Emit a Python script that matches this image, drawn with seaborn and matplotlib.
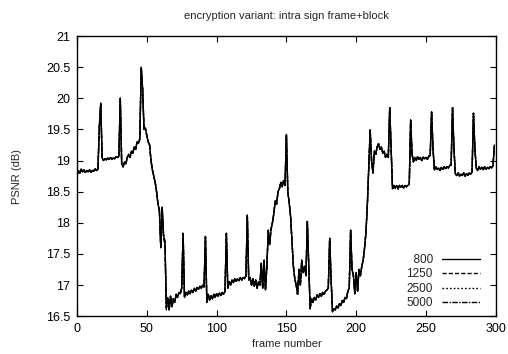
import numpy as np
import pandas as pd
import matplotlib
matplotlib.use("Agg")
import matplotlib.pyplot as plt
import seaborn as sns

# ---- data (PSNR in dB per frame) ----
psnr_800 = [
    18.76, 18.84, 18.80, 18.86, 18.82, 18.85, 18.81, 18.84, 18.82, 18.85, 18.81, 18.84, 18.83, 18.87, 18.84, 18.86,
    19.55, 19.92,
    19.04, 19.00, 19.03, 19.01, 19.04, 19.02, 19.05, 19.02, 19.04, 19.03, 19.06, 19.05, 19.07,
    20.00, 18.95,
    18.90, 18.98, 18.95, 19.05, 19.10, 19.05, 19.15, 19.12, 19.22, 19.18, 19.30, 19.28, 19.35,
    20.50, 20.15,
    19.50, 19.52, 19.40, 19.30, 19.25, 19.00, 18.85, 18.75, 18.65, 18.50, 18.30, 18.20, 17.60, 18.25, 17.80, 17.70, 16.63,
    16.80, 16.60, 16.82, 16.65, 16.78, 16.72, 16.85, 16.80, 16.88, 16.86, 16.95,
    17.83,
    16.80, 16.88, 16.84, 16.90, 16.86, 16.92, 16.88, 16.95, 16.90, 16.96, 16.93, 16.98, 16.95, 17.00, 16.97,
    17.78,
    16.72, 16.85, 16.76, 16.83, 16.78, 16.85, 16.80, 16.86, 16.82, 16.87, 16.83, 16.88, 16.85, 16.90,
    17.83,
    16.95, 17.05, 17.00, 17.08, 17.04, 17.10, 17.06, 17.10, 17.07, 17.12, 17.08, 17.12, 17.10, 17.15,
    18.12,
    17.08, 17.12, 17.00, 17.10, 16.98, 17.08, 16.95, 17.05, 17.00, 17.35, 16.95, 17.40, 16.92, 17.30,
    17.88, 17.65, 17.90, 18.00, 18.15, 18.35, 18.30, 18.50, 18.55, 18.65, 18.58, 18.68, 18.60,
    19.42,
    18.50, 18.32, 18.10, 17.70, 17.30, 17.10, 17.00, 16.85, 17.25, 17.00, 17.40, 17.20, 17.30, 17.15,
    18.02,
    17.30, 16.62, 16.78, 16.72, 16.80, 16.76, 16.84, 16.80, 16.86, 16.82, 16.88, 16.85, 16.90, 16.92, 16.95,
    17.75,
    17.10, 16.57, 16.62, 16.60, 16.66, 16.63, 16.70, 16.67, 16.75, 16.72, 16.80, 16.78, 16.90, 16.95,
    17.88,
    17.25, 17.15, 16.86, 17.20, 16.90, 17.25, 17.15, 17.30, 17.40, 17.60, 17.85, 18.30, 18.90,
    19.49,
    19.00, 18.80, 19.15, 19.10, 19.22, 19.27, 19.18, 19.22, 19.12, 19.15, 19.05, 19.10, 19.05,
    19.85,
    19.20, 18.55, 18.60, 18.57, 18.60, 18.56, 18.60, 18.57, 18.60, 18.56, 18.60, 18.58, 18.60, 18.62,
    19.65,
    19.10, 18.98, 19.05, 19.00, 19.06, 19.02, 19.05, 19.00, 19.06, 19.03, 19.05, 19.02, 19.07, 19.08,
    19.78,
    19.20, 18.85, 18.90, 18.86, 18.88, 18.84, 18.89, 18.86, 18.90, 18.87, 18.90, 18.88, 18.92, 18.93,
    19.85,
    19.20, 18.79, 18.76, 18.80, 18.75, 18.78, 18.76, 18.80, 18.75, 18.79, 18.76, 18.80, 18.78, 18.82,
    19.76,
    19.20, 18.88, 18.84, 18.90, 18.86, 18.89, 18.85, 18.90, 18.86, 18.89, 18.87, 18.90, 18.88, 18.92, 19.25,
]

# the other bit rates coincide with 800 except at a few frames
diff_1250 = {62: 17.74, 63: 17.66, 227: 18.56, 229: 18.58, 243: 19.02, 257: 18.88}
diff_2500 = {61: 18.22, 64: 16.60, 228: 18.55, 231: 18.58, 246: 19.03, 274: 18.77}
diff_5000 = {60: 17.62, 65: 16.78, 230: 18.54, 233: 18.58, 248: 19.04, 291: 18.87}

psnr_1250 = [diff_1250.get(i, v) for i, v in enumerate(psnr_800)]
psnr_2500 = [diff_2500.get(i, v) for i, v in enumerate(psnr_800)]
psnr_5000 = [diff_5000.get(i, v) for i, v in enumerate(psnr_800)]

series_names = ["800", "1250", "2500", "5000"]
series_values = [psnr_800, psnr_1250, psnr_2500, psnr_5000]
frames = np.arange(len(psnr_800))

title = "encryption variant: intra sign frame+block"
x_label = "frame number"
y_label = "PSNR (dB)"
x_ticks = [0, 50, 100, 150, 200, 250, 300]
y_ticks = [16.5, 17, 17.5, 18, 18.5, 19, 19.5, 20, 20.5, 21]

df = pd.DataFrame({
    "frame": np.concatenate([frames] * len(series_names)),
    "psnr": np.concatenate(series_values),
    "rate": np.repeat(series_names, len(frames)),
})

# ---- plotting ----
sns.set_style("ticks")
plt.rcParams["font.family"] = ["Liberation Sans", "DejaVu Sans"]

fig = plt.figure(figsize=(5.08, 3.54), dpi=100)
ax = fig.add_axes([0.1516, 0.107, 0.8244, 0.791])

dash_map = {"800": "", "1250": (3, 1.5), "2500": (1.2, 1.5), "5000": (4, 1, 1, 1)}
sns.lineplot(data=df, x="frame", y="psnr", style="rate", style_order=series_names,
             dashes=dash_map, color="black", linewidth=1.0, ax=ax, legend=False)

ax.set_xlim(0, 300)
ax.set_ylim(16.5, 21)
ax.set_xticks(x_ticks)
ax.set_xticklabels([str(t) for t in x_ticks])
ax.set_yticks(y_ticks)
ax.set_yticklabels([f"{t:g}" for t in y_ticks])
ax.tick_params(direction="in", length=4, width=0.8, top=True, right=True,
               labelsize=9, colors="black", pad=5)
for s in ax.spines.values():
    s.set_visible(True)
    s.set_linewidth(1.0)
    s.set_color("black")

ax.set_title(title, fontsize=8, pad=12)
ax.set_xlabel(x_label, fontsize=8, labelpad=3)
ax.set_ylabel(y_label, fontsize=8, labelpad=17)

# right-aligned legend labels (gnuplot style): pad shorter numbers with figure spaces
width = max(len(n) for n in series_names)
legend_labels = ["\u2007" * (width - len(n)) + n for n in series_names]
handles = ax.get_lines()[:len(series_names)]
ax.legend(handles, legend_labels, loc="lower right", bbox_to_anchor=(0.985, -0.01),
          frameon=False, markerfirst=False, fontsize=8.5, handlelength=3.2,
          labelspacing=0.22, handletextpad=0.8, borderpad=0.3)

fig.savefig("out.png", dpi=100)
